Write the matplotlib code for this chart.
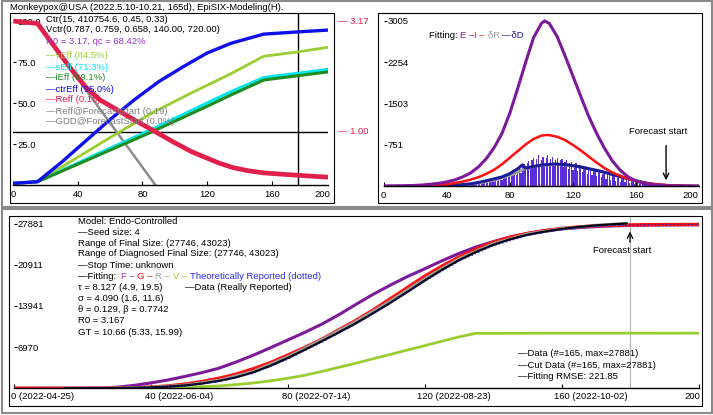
import matplotlib
matplotlib.use('Agg')
import matplotlib.pyplot as plt
from matplotlib.patches import Rectangle

plt.rcParams['font.family'] = ['Liberation Sans', 'DejaVu Sans']
FS = 6.8

# ---------------- data: top-left (control efficacy, % scale) ----------------
tl_reff_days = [0, 15, 25, 35, 45, 54, 64, 74, 86, 99, 110, 118, 127, 136, 146, 155, 166, 177, 186, 195]
tl_reff = [100, 98.5, 85, 71.7, 59.5, 51.7, 46, 40.2, 33.6, 26.3, 20.5, 17.2, 13.5, 10.6, 8.6, 7.4, 6.6, 5.9, 5.3, 4.8]
tl_gdd_days = [15, 88]
tl_gdd = [98.5, 0]
tl_ctr_days = [0, 15, 30, 45, 60, 75, 90, 105, 120, 135, 155, 175, 195]
tl_ctr = [1, 2, 14, 27, 40, 52, 63, 72, 80.5, 86.5, 92, 93.3, 94.5]
tl_v_days = [0, 15, 40, 60, 86, 110, 135, 155, 175, 195]
tl_v = [1, 2, 17, 29, 44, 56, 68, 78.5, 81, 84]
tl_s_days = [0, 15, 50, 86, 120, 135, 155, 175, 195]
tl_s = [1, 2, 18, 34, 50, 57, 65.5, 68, 70.5]
tl_i_days = [0, 15, 50, 86, 120, 135, 155, 175, 195]
tl_i = [1, 2, 17, 32.5, 48, 55, 64, 66.5, 69]
tl_one_line = 32.5
tl_forecast = 176
tl_yticks = [100, 75, 50, 25]
tl_ylabels = ["100.0", "75.0", "50.0", "25.0"]
tl_xticks = [0, 40, 80, 120, 160]

# ---------------- data: top-right (daily curves) ----------------
tr_E_days = [0, 5, 10, 15, 20, 25, 30, 35, 40, 45, 50, 55, 60, 65, 70, 75, 80, 85, 90, 95, 100, 102,
             105, 110, 115, 120, 125, 130, 135, 140, 145, 150, 155, 160, 165, 170, 175, 180, 185, 190, 195, 200]
tr_E = [3, 4, 6, 10, 16, 25, 38, 55, 80, 115, 170, 240, 350, 500, 700, 960, 1330, 1780, 2250, 2700, 2960, 3005,
        2960, 2720, 2370, 2000, 1630, 1270, 960, 690, 460, 290, 170, 95, 55, 30, 17, 10, 6, 4, 3, 2]
tr_I_days = [0, 10, 20, 30, 40, 45, 50, 55, 60, 65, 70, 75, 80, 85, 90, 95, 100, 103,
             105, 110, 115, 120, 125, 130, 135, 140, 145, 150, 155, 160, 165, 170, 175, 180, 185, 190, 195, 200]
tr_I = [2, 4, 8, 17, 38, 58, 85, 120, 165, 225, 300, 400, 520, 640, 760, 860, 920, 932,
        930, 900, 840, 750, 650, 540, 430, 330, 250, 190, 135, 95, 65, 45, 30, 20, 13, 9, 6, 4]
tr_D_days = [0, 20, 30, 40, 50, 55, 60, 65, 70, 75, 80, 85, 88, 90, 95, 100, 105, 108,
             110, 115, 120, 125, 130, 135, 140, 145, 150, 155, 160, 165, 170, 175, 180, 185, 190, 195, 200]
tr_D = [1, 3, 5, 12, 30, 45, 70, 100, 135, 170, 230, 320, 390, 330, 360, 385, 400, 405,
        404, 395, 375, 350, 320, 290, 255, 215, 175, 135, 100, 65, 40, 25, 15, 9, 5, 3, 2]
tr_R_days = [0, 20, 30, 40, 50, 60, 70, 80, 85, 88, 90, 100, 110, 120, 130, 140, 150, 160, 170, 180, 190, 200]
tr_R = [1, 3, 5, 10, 25, 55, 110, 195, 255, 300, 330, 380, 400, 372, 318, 252, 172, 98, 40, 15, 5, 2]
tr_bar_start = 15
tr_bars = [1, 0, 2, 1, 0, 3, 2, 1, 4, 2, 1, 3, 5, 2, 6, 4, 3, 7, 8, 5, 9, 11, 6, 12, 14, 10, 15, 18, 12, 20,
           22, 25, 16, 28, 32, 24, 35, 38, 28, 42, 48, 36, 50, 55, 40, 62, 70, 52, 75, 85,
           90, 68, 100, 110, 85, 125, 135, 100, 150, 165, 120, 180, 200, 150, 215, 240, 180, 260, 280, 210,
           300, 330, 250, 380, 400, 300, 420, 460, 340, 480, 520, 380, 500, 560, 400, 470, 540, 380, 520, 560,
           420, 500, 540, 390, 470, 520, 360, 480, 500, 350, 440, 470, 320, 420, 450, 300, 400, 420, 280, 380,
           390, 260, 350, 360, 230, 320, 330, 200, 290, 300, 180, 260, 270, 160, 230, 240, 140, 200, 210, 120,
           180, 185, 100, 150, 160, 85, 130, 140, 70, 110, 115, 60, 95, 100, 50, 80, 85, 40, 65, 70,
           35, 55, 60, 30, 45, 50, 25, 40, 42, 20, 32, 35, 15, 28, 30]
tr_forecast = 179
tr_yticks = [3005, 2254, 1503, 751]
tr_xticks = [0, 40, 80, 120, 160]

# ---------------- data: bottom (cumulative) ----------------
b_days = list(range(0, 201, 5))
b_F = [0, 1, 3, 8, 20, 60, 180, 480, 900, 1400, 2000, 2650, 3400, 4450, 5600, 6850, 8150, 9450, 10850, 12450,
       14200, 15900, 17450, 18900, 20200, 21550, 22800, 23900, 24800, 25600, 26200, 26650, 26950, 27180,
       27360, 27480, 27560, 27600, 27630, 27650, 27660]
b_G = [0, 0, 1, 3, 8, 20, 50, 110, 200, 400, 700, 1150, 1700, 2400, 3300, 4350, 5600, 6900, 8300, 9900,
       11500, 13250, 15150, 17050, 18950, 20650, 22200, 23550, 24700, 25550, 26200, 26680, 27050, 27300,
       27470, 27580, 27640, 27680, 27700, 27710, 27720]
b_data_days = [15, 20, 25, 30, 35, 40, 45, 50, 55, 60, 65, 70, 75, 80, 85, 90, 95, 100, 105, 110, 115, 120,
               125, 130, 135, 140, 145, 150, 155, 160, 165, 170, 175, 179]
b_data = [4, 10, 20, 40, 80, 150, 280, 480, 800, 1250, 1850, 2700, 3800, 5100, 6500, 7950, 9450, 11000, 12700,
          14450, 16300, 18200, 20000, 21650, 23050, 24250, 25200, 25950, 26500, 26950, 27300, 27560, 27750, 27881]
b_cut_days = [15, 30, 40, 50, 60, 70, 80, 90, 100, 110, 120, 130, 140, 150, 160, 170, 179]
b_cut = [4, 45, 160, 520, 1350, 2850, 5300, 8200, 11300, 14750, 18500, 21900, 24450, 26100, 27000, 27580, 27881]
b_theo_days = [0, 20, 30, 40, 50, 60, 70, 80, 90, 100, 110, 120, 130, 140, 150, 160, 170, 180, 190, 200]
b_theo = [0, 10, 35, 130, 430, 1150, 2550, 4900, 7800, 10900, 14400, 18100, 21500, 24100, 25850, 26850,
          27400, 27650, 27700, 27720]
b_V_days = [0, 30, 40, 50, 60, 65, 70, 75, 80, 85, 90, 95, 100, 105, 110, 115, 120, 125, 130, 135, 160, 200]
b_V = [0, 0, 30, 150, 400, 620, 900, 1250, 1690, 2200, 2850, 3550, 4250, 4990, 5730, 6470, 7210, 7950, 8690,
       9300, 9320, 9330]
b_forecast = 180
b_yticks = [27881, 20911, 13941, 6970]
b_xticks = [0, 40, 80, 120, 160, 200]
b_xlabels = ["0 (2022-04-25)", "40 (2022-06-04)", "80 (2022-07-14)", "120 (2022-08-23)",
             "160 (2022-10-02)", "200"]

# ---------------- figure ----------------
W, H = 713, 415
fig = plt.figure(figsize=(W / 100, H / 100), dpi=100)


def rect(l, t, r, b):
    return [l / W, 1 - b / H, (r - l) / W, (b - t) / H]


def ftext(x, y, s, **kw):
    kw.setdefault('fontsize', FS)
    kw.setdefault('va', 'center')
    kw.setdefault('ha', 'left')
    return fig.text(x / W, 1 - y / H, s, **kw)


def frame(l, t, r, b, color, lw):
    fig.add_artist(Rectangle((l / W, 1 - b / H), (r - l) / W, (b - t) / H,
                             transform=fig.transFigure, fill=False, ec=color, lw=lw))


def seq_text(x, y, pieces):
    renderer = fig.canvas.get_renderer()
    for s, c in pieces:
        t = ftext(x, y, s, color=c)
        x += t.get_window_extent(renderer).width


frame(1.5, 1.5, 711.5, 207, '#8a8a8a', 1.5)
frame(1.5, 209.5, 711.5, 413, '#8a8a8a', 1.5)
frame(10, 13, 334, 203, 'black', 0.8)
frame(378, 13, 702, 203, 'black', 0.8)
frame(9, 216, 702, 406, 'black', 0.8)


def style(ax, xlim, ylim, yticks, ylabels):
    ax.set_xlim(*xlim)
    ax.set_ylim(*ylim)
    for s in ['top', 'right', 'left']:
        ax.spines[s].set_visible(False)
    ax.spines['bottom'].set_linewidth(1.0)
    ax.patch.set_alpha(0)
    ax.set_yticks(yticks, ylabels)
    ax.tick_params(axis='x', direction='in', length=3, width=0.8, labelbottom=False)
    ax.tick_params(axis='y', direction='in', length=2, width=0.8, pad=-3, labelsize=FS)
    for lb in ax.get_yticklabels():
        lb.set_ha('left')


def xlabel(ax, x, s, dx_px, ha, dy_px=9):
    ax.annotate(s, xy=(x, 0), xycoords=ax.get_xaxis_transform(),
                xytext=(dx_px * 0.72, -dy_px * 0.72), textcoords='offset points',
                ha=ha, va='center', fontsize=FS)


# ---------------- top-left ----------------
ax1 = fig.add_axes(rect(13.3, 13, 328.2, 185))
style(ax1, (0, 195), (0, 104.9), tl_yticks, tl_ylabels)
ax1.set_xticks(tl_xticks)

tx = 46.5
ftext(tx, 19, "Ctr(15, 410754.6, 0.45, 0.33)")
ftext(tx, 30, "Vctr(0.787, 0.759, 0.658, 140.00, 720.00)")
ftext(tx, 41, "R0 = 3.17, qc = 68.42%", color='#9b30c8')
ftext(tx, 56, "—vEff (84.5%)", color='#9acd32')
ftext(tx, 67, "—sEff (71.3%)", color='#00e5ee')
ftext(tx, 78, "—iEff (69.1%)", color='#1e8c1e')
ftext(tx, 89, "—ctrEff (95.0%)", color='#1010ee')
ftext(tx, 100, "—Reff (0.16)", color='#e0204a')
ftext(tx, 111, "—Reff@ForecastStart (0.19)", color='#808080')
ftext(tx, 122, "—GDD@ForecastStart (0.0%)", color='#808080')

ax1.axhline(tl_one_line, color='black', lw=1.0)
ax1.axvline(tl_forecast, color='black', lw=1.0)
ax1.plot(tl_gdd_days, tl_gdd, color='#8c8c8c', lw=1.8)
ax1.plot(tl_v_days, tl_v, color='#9acd32', lw=2.0)
ax1.plot(tl_s_days, tl_s, color='#00e5ee', lw=2.2)
ax1.plot(tl_i_days, tl_i, color='#1e8c1e', lw=2.2)
ax1.plot(tl_ctr_days, tl_ctr, color='#1010ee', lw=2.4)
ax1.plot(tl_reff_days, tl_reff, color='#e0204a', lw=3.4, solid_capstyle='butt')
for d in tl_xticks:
    xlabel(ax1, d, str(d), 0, 'center')
ax1.annotate("200", xy=(1, 0), xycoords='axes fraction', xytext=(1.5, -9 * 0.72),
             textcoords='offset points', ha='right', va='center', fontsize=FS)
ax1.annotate("— 3.17", xy=(1, 100), xycoords=ax1.get_yaxis_transform(), xytext=(7, 0),
             textcoords='offset points', ha='left', va='center', fontsize=FS, color='#e0204a')
ax1.annotate("— 1.00", xy=(1, tl_one_line), xycoords=ax1.get_yaxis_transform(), xytext=(7, 0),
             textcoords='offset points', ha='left', va='center', fontsize=FS, color='#e0204a')
ftext(10, 7, "Monkeypox@USA (2022.5.10-10.21, 165d), EpiSIX-Modeling(H).")

# ---------------- top-right ----------------
ax2 = fig.add_axes(rect(383.6, 13, 699.2, 186.3))
style(ax2, (0, 200), (0, 3149), tr_yticks, [str(v) for v in tr_yticks])
ax2.set_xticks(tr_xticks)
bar_days = list(range(tr_bar_start, tr_bar_start + len(tr_bars)))
ax2.bar(bar_days, tr_bars, width=0.8, color='#5a2fd8', lw=0)
ax2.plot(tr_R_days, tr_R, color='#a0a0a0', lw=2.0)
ax2.plot(tr_D_days, tr_D, color='#1c1c96', lw=2.2)
ax2.plot(tr_I_days, tr_I, color='#ff1010', lw=1.8)
ax2.plot(tr_E_days, tr_E, color='#7d1a9a', lw=2.2)
ax2.annotate('', xy=(tr_forecast, 60), xytext=(tr_forecast, 790),
             arrowprops=dict(arrowstyle='->', color='black', lw=1.0))
ax2.text(174, 987, "Forecast start", fontsize=FS, ha='center', va='center')
for d in tr_xticks:
    xlabel(ax2, d, str(d), 0, 'center', 8.7)
ax2.annotate("200", xy=(1, 0), xycoords='axes fraction', xytext=(-0.5, -8.7 * 0.72),
             textcoords='offset points', ha='right', va='center', fontsize=FS)
seq_text(429, 35.7, [("Fitting: ", 'black'), ("E –", '#7d1a9a'), ("I – ", '#ff1010'),
                     ("δR ", '#a0a0a0'), ("—δD", '#1c1c96')])

# ---------------- bottom ----------------
ax3 = fig.add_axes(rect(13.5, 216, 698.5, 388.3))
style(ax3, (0, 200), (0, 29150), b_yticks, [str(v) for v in b_yticks])
ax3.set_xticks(b_xticks)
ax3.axvline(b_forecast, color='#b4b4b4', lw=0.8)
ax3.plot(b_V_days, b_V, color='#9acd32', lw=2.0)
ax3.plot(b_days, b_F, color='#7d1a9a', lw=2.2)
ax3.plot(b_days, b_G, color='#ff1010', lw=2.4)
ax3.plot(b_cut_days, b_cut, color='#9a9a9a', lw=2.2)
ax3.plot(b_data_days, b_data, color='black', lw=1.6)
ax3.plot(b_theo_days, b_theo, color='#2020c0', lw=1.0, ls=':')
ax3.annotate('', xy=(b_forecast, 27000), xytext=(b_forecast, 24250),
             arrowprops=dict(arrowstyle='->', color='black', lw=0.9))
ax3.text(177.6, 23230, "Forecast start", fontsize=FS, ha='center', va='center')
for d, s in zip(b_xticks[:-1], b_xlabels[:-1]):
    num = s.split(' ')[0]
    xlabel(ax3, d, s, -len(num) * 2.65, 'left', 8.4)
ax3.annotate(b_xlabels[-1], xy=(1, 0), xycoords='axes fraction', xytext=(1.0, -8.4 * 0.72),
             textcoords='offset points', ha='right', va='center', fontsize=FS)

bx = 77.7
ftext(bx, 221.7, "Model: Endo-Controlled")
ftext(bx, 232.7, "—Seed size: 4")
ftext(bx, 243.3, "Range of Final Size: (27746, 43023)")
ftext(bx, 254, "Range of Diagnosed Final Size: (27746, 43023)")
ftext(bx, 265, "—Stop Time: unknown")
seq_text(bx, 276.3, [("—Fitting:  ", 'black'), ("F – ", '#9b30c8'), ("G – ", '#ff1010'),
                     ("R – ", '#a0a0a0'), ("V – ", '#9acd32'),
                     ("Theoretically Reported (dotted)", '#2a2af0')])
ftext(bx, 287.7, "τ = 8.127 (4.9, 19.5)")
ftext(185, 287.7, "—Data (Really Reported)")
ftext(bx, 298.7, "σ = 4.090 (1.6, 11.6)")
ftext(bx, 309, "θ = 0.129, β = 0.7742")
ftext(bx, 320, "R0 = 3.167")
ftext(bx, 332.3, "GT = 10.66 (5.33, 15.99)")
ftext(518.3, 353.3, "—Data (#=165, max=27881)")
ftext(518.3, 365, "—Cut Data (#=165, max=27881)")
ftext(518.3, 376, "—Fitting RMSE: 221.85")

fig.savefig('out.png', dpi=100)
